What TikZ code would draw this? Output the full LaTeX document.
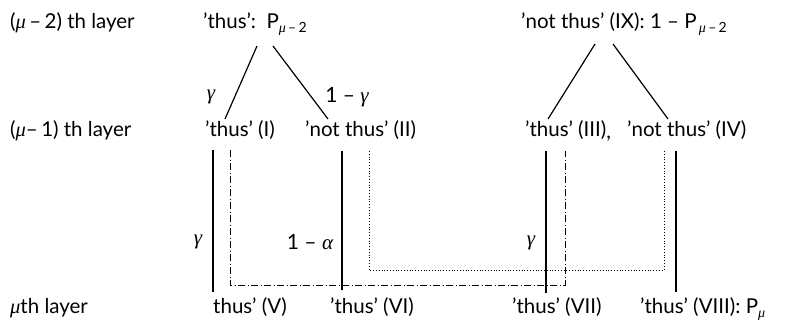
\documentclass[tikz,border=0pt]{standalone}
\usepackage{fontspec}
\setmainfont{Lato}
\newfontfamily\grkfont{Liberation Serif}
\newcommand{\gk}[1]{{\grkfont\itshape #1}}
\newcommand{\subsc}[1]{\raisebox{-4pt}{\fontsize{14}{14}\selectfont #1}}
\begin{document}
\begin{tikzpicture}[x=1pt,y=-1pt,
  txt/.style={anchor=base west,inner sep=0pt,font=\fontsize{20.5}{23}\selectfont},
  lab/.style={inner sep=0pt,font=\fontsize{21}{23}\selectfont},
  conn/.style={line width=1.2pt},
  dashdot/.style={line width=1pt,dash pattern=on 7pt off 2.5pt on 1pt off 2.5pt},
  dots/.style={line width=1pt,dash pattern=on 1pt off 1.8pt}]
\useasboundingbox (0,0) rectangle (791,327);
% layer labels
\node[txt] (L2) at (10,28) {(\gk{μ}\,--\,2) th layer};
\node[txt] (L1) at (10,136) {(\gk{μ}--\,1) th layer};
\node[txt] (L0) at (10,313) {\gk{μ}th layer};
% top row
\node[txt] (T0) at (203,28) {'thus':\ \ P\subsc{\gk{μ}\,--\,2}};
\node[txt] (T9) at (521,28) {'not thus' (IX):\ 1\ --\ P\subsc{\,\gk{μ}\,--\,2}};
% middle row
\node[txt] (N1) at (205,136) {'thus' (I)};
\node[txt] (N2) at (305,136) {'not thus' (II)};
\node[txt] (N3) at (525,136) {'thus' (III)\raisebox{-2pt}{,}};
\node[txt] (N4) at (627,136) {'not thus' (IV)};
% bottom row
\node[txt] (N5) at (213,313) {thus' (V)};
\node[txt] (N6) at (330,313) {'thus' (VI)};
\node[txt] (N7) at (512,313) {'thus' (VII)};
\node[txt] (N8) at (640,313) {'thus' (VIII):\ P\subsc{\gk{μ}}};
% tree endpoints
\coordinate (a1) at (257,46);  \coordinate (b1) at (225,119);
\coordinate (a2) at (273,46);  \coordinate (b2) at (328,119);
\coordinate (a3) at (595,44);  \coordinate (b3) at (548,119);
\coordinate (a4) at (613,44);  \coordinate (b4) at (668,119);
\draw[conn] (a1) -- (b1);
\draw[conn] (a2) -- (b2);
\draw[conn] (a3) -- (b3);
\draw[conn] (a4) -- (b4);
% vertical solid lines
\coordinate (v1a) at (213,150); \coordinate (v1b) at (213,292);
\coordinate (v2a) at (342,151); \coordinate (v2b) at (342,290);
\coordinate (v3a) at (546,151); \coordinate (v3b) at (546,293);
\coordinate (v4a) at (676,151); \coordinate (v4b) at (676,292);
\draw[conn] (v1a) -- (v1b);
\draw[conn] (v2a) -- (v2b);
\draw[conn] (v3a) -- (v3b);
\draw[conn] (v4a) -- (v4b);
% dash-dot path
\coordinate (d1) at (230,150); \coordinate (d2) at (230,285);
\coordinate (d3) at (565,285); \coordinate (d4) at (565,151);
\draw[dashdot] (d1) -- (d2) -- (d3) -- (d4);
% dotted path
\coordinate (p1) at (369,151); \coordinate (p2) at (369,270);
\coordinate (p3) at (664,270); \coordinate (p4) at (664,151);
\draw[dots] (p1) -- (p2) -- (p3) -- (p4);
% edge labels
\node[lab] (g1) at (211,97) {\gk{γ}};
\node[lab] (g2) at (347,97) {1 -- \gk{γ}};
\node[lab] (g3) at (198,242) {\gk{γ}};
\node[lab] (g4) at (310,242) {1 -- \gk{α}};
\node[lab] (g5) at (531,243) {\gk{γ}};
\end{tikzpicture}
\end{document}
